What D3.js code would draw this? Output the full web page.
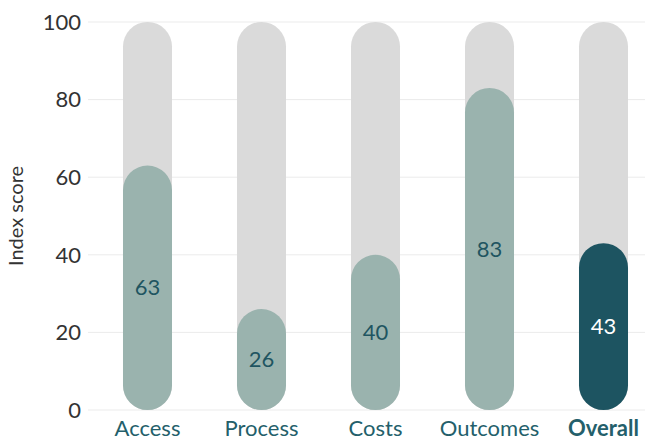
<!DOCTYPE html>
<html><head><meta charset="utf-8">
<script src="https://cdn.jsdelivr.net/npm/d3@7"></script>
<style>body{margin:0;background:#fff}</style>
</head><body>
<svg id="c" width="645" height="440"></svg>
<script>
const categories = ["Access","Process","Costs","Outcomes","Overall"];
const scores = [63,26,40,83,43];
const yTicks = [0,20,40,60,80,100];
const maxScore = 100;

const svg = d3.select("#c");
const font = "Lato, 'Open Sans', sans-serif";
const y = d3.scaleLinear().domain([0,100]).range([410,22]);
const x = d3.scaleBand().domain(categories).range([90.5,660.5]).paddingInner(0.57).paddingOuter(0.285);
const bw = x.bandwidth();

// gridlines
svg.append("g").selectAll("line").data(yTicks).join("line")
  .attr("x1",88).attr("x2",645).attr("y1",d=>y(d)).attr("y2",d=>y(d))
  .attr("stroke","#ebebeb").attr("stroke-width",1);

// y tick labels
svg.append("g").selectAll("text").data(yTicks).join("text")
  .attr("x",81).attr("y",d=>y(d)).attr("dy","0.35em").attr("text-anchor","end")
  .attr("font-family",font).attr("font-size",22).attr("fill","#333").text(d=>d);

// y title
svg.append("text").attr("transform","translate(23,216) rotate(-90)")
  .attr("text-anchor","middle").attr("font-family",font).attr("font-size",20).attr("fill","#333")
  .text("Index score");

// background pills
svg.append("g").selectAll("rect").data(categories).join("rect")
  .attr("x",d=>x(d)).attr("width",bw).attr("y",y(maxScore)).attr("height",y(0)-y(maxScore))
  .attr("rx",bw/2).attr("fill","#dadada");

const data = categories.map((c,i)=>({c, v:scores[i], overall:c==="Overall"}));

svg.append("g").selectAll("rect").data(data).join("rect")
  .attr("x",d=>x(d.c)).attr("width",bw).attr("y",d=>y(d.v)).attr("height",d=>y(0)-y(d.v))
  .attr("rx",bw/2).attr("fill",d=>d.overall?"#1d5461":"#9ab3ae");

svg.append("g").selectAll("text").data(data).join("text")
  .attr("x",d=>x(d.c)+bw/2).attr("y",d=>(y(d.v)+y(0))/2).attr("dy","0.35em")
  .attr("text-anchor","middle").attr("font-family",font).attr("font-size",22)
  .attr("fill",d=>d.overall?"#fff":"#1f5561").text(d=>d.v);

// x labels
svg.append("g").selectAll("text").data(data).join("text")
  .attr("x",d=>x(d.c)+bw/2).attr("y",436).attr("text-anchor","middle")
  .attr("font-family",font).attr("font-size",22).attr("font-weight",d=>d.overall?"bold":"normal")
  .attr("fill","#245f6b").text(d=>d.c);
</script>
</body></html>
